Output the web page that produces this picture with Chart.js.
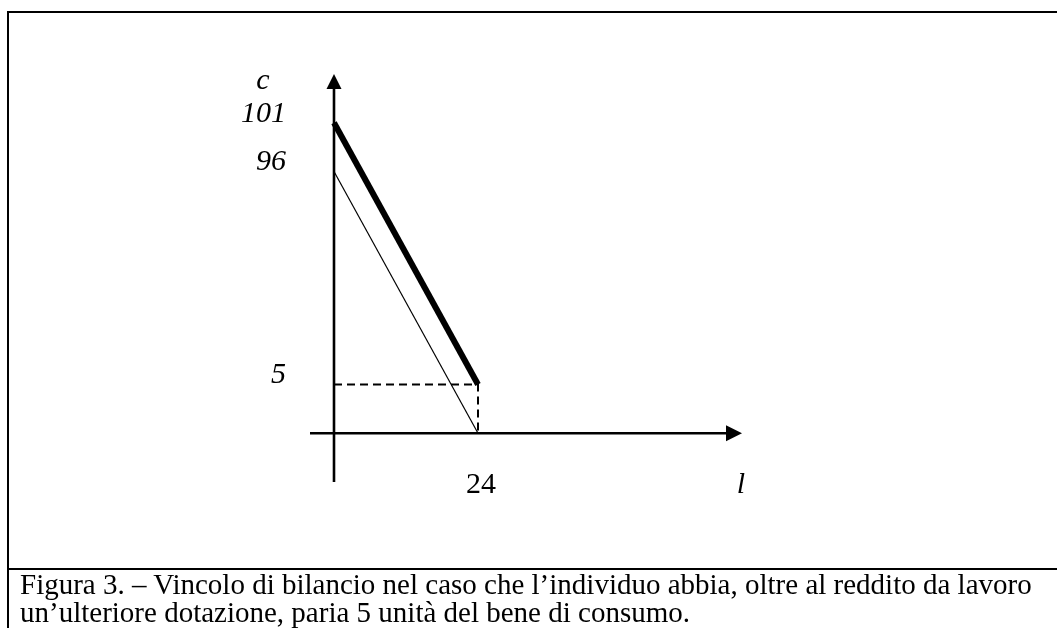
<!DOCTYPE html>
<html>
<head>
<meta charset="utf-8">
<script src="https://cdn.jsdelivr.net/npm/chart.js@4/dist/chart.umd.min.js"></script>
<style>
  body { margin: 0; background: #fff; }
  #wrap { position: relative; width: 1057px; height: 628px; overflow: hidden; }
  #frame { position: absolute; left: 7px; top: 11px; width: 1070px; height: 555px;
           border-top: 2px solid #000; border-left: 2px solid #000; border-bottom: 2px solid #000; }
  #frameLow { position: absolute; left: 7px; top: 568px; width: 0; height: 60px; border-left: 2px solid #000; }
  #caption { position: absolute; left: 20px; top: 570px; font: 29px "Liberation Serif", serif;
             line-height: 28px; white-space: nowrap; color: #000; }
  canvas { position: absolute; left: 0; top: 0; }
</style>
</head>
<body>
<div id="wrap">
  <div id="frame"></div>
  <div id="frameLow"></div>
  <canvas id="budget" width="1057" height="628"></canvas>
  <div id="caption">
    <div>Figura 3. – Vincolo di bilancio nel caso che l’individuo abbia, oltre al reddito da lavoro</div>
    <div>un’ulteriore dotazione, paria 5 unità del bene di consumo.</div>
  </div>
</div>
<script>
// leisure hours (l) and consumption (c)
var leisure = [0, 24];
var consWithEndowment = [101, 5];
var consLabourOnly = [96, 0];
var endowment = 5;

var yTicks = [101, 96, 5];
var xTicks = [24];
var yName = 'c';
var xName = 'l';

// vertical axis is drawn "not to scale": the stretch between 5 and 96 is squeezed
var BREAK_LO = 5, BREAK_HI = 96, SQUEEZE = 0.24;
function squeeze(v) {
    if (v <= BREAK_LO) return v;
    if (v <= BREAK_HI) return BREAK_LO + (v - BREAK_LO) * SQUEEZE;
    return BREAK_LO + (BREAK_HI - BREAK_LO) * SQUEEZE + (v - BREAK_HI);
}
function unsqueeze(u) {
    var mid = BREAK_LO + (BREAK_HI - BREAK_LO) * SQUEEZE;
    if (u <= BREAK_LO) return u;
    if (u <= mid) return BREAK_LO + (u - BREAK_LO) / SQUEEZE;
    return BREAK_HI + (u - mid);
}

class SqueezedScale extends Chart.LinearScale {
    getPixelForValue(v) {
        var a = squeeze(this.min), b = squeeze(this.max);
        return this.getPixelForDecimal((squeeze(v) - a) / (b - a));
    }
    getValueForPixel(p) {
        var a = squeeze(this.min), b = squeeze(this.max);
        return unsqueeze(a + this.getDecimalForPixel(p) * (b - a));
    }
}
SqueezedScale.id = 'squeezed';
SqueezedScale.defaults = Chart.LinearScale.defaults;
Chart.register(SqueezedScale);

function pts(xs, ys) {
    return xs.map(function (x, i) { return { x: x, y: ys[i] }; });
}

// axes with arrow heads plus the hand placed labels
var sketchAxes = {
    id: 'sketchAxes',
    beforeDatasetsDraw: function (chart) {
        var ctx = chart.ctx, a = chart.chartArea;
        var xs = chart.scales.x, ys = chart.scales.y;
        var x0 = xs.getPixelForValue(0), y0 = ys.getPixelForValue(0);
        ctx.save();
        ctx.strokeStyle = '#000';
        ctx.fillStyle = '#000';
        ctx.lineWidth = 2.6;
        ctx.beginPath();
        ctx.moveTo(x0, a.bottom); ctx.lineTo(x0, a.top + 12);
        ctx.moveTo(a.left, y0); ctx.lineTo(a.right - 12, y0);
        ctx.stroke();
        ctx.beginPath();
        ctx.moveTo(x0, a.top); ctx.lineTo(x0 - 7.5, a.top + 15); ctx.lineTo(x0 + 7.5, a.top + 15);
        ctx.closePath(); ctx.fill();
        ctx.beginPath();
        ctx.moveTo(a.right, y0); ctx.lineTo(a.right - 16, y0 - 8); ctx.lineTo(a.right - 16, y0 + 8);
        ctx.closePath(); ctx.fill();

        ctx.font = 'italic 30px "Liberation Serif"';
        ctx.textBaseline = 'middle';
        ctx.textAlign = 'right';
        yTicks.forEach(function (v) {
            ctx.fillText(String(v), x0 - 48, ys.getPixelForValue(v) - 9);
        });
        ctx.textAlign = 'center';
        ctx.fillText(yName, x0 - 71, a.top + 7);
        ctx.fillText(xName, a.right - 1, y0 + 52);
        ctx.font = '30px "Liberation Serif"';
        xTicks.forEach(function (v) {
            ctx.fillText(String(v), xs.getPixelForValue(v) + 3, y0 + 52);
        });
        ctx.restore();
    }
};

new Chart(document.getElementById('budget'), {
    type: 'line',
    data: {
        datasets: [
            {
                data: pts(leisure, consWithEndowment),
                borderColor: '#000',
                borderWidth: 6,
                pointRadius: 0
            },
            {
                data: pts(leisure, consLabourOnly),
                borderColor: '#000',
                borderWidth: 1.2,
                pointRadius: 0
            },
            {
                data: [{ x: 0, y: endowment }, { x: leisure[1], y: endowment }, { x: leisure[1], y: 0 }],
                borderColor: '#000',
                borderWidth: 2,
                borderDash: [8, 5],
                pointRadius: 0
            }
        ]
    },
    options: {
        responsive: false,
        animation: false,
        layout: { padding: { left: 310, right: 315, top: 74, bottom: 146 } },
        plugins: { legend: { display: false }, tooltip: { enabled: false } },
        scales: {
            x: { type: 'linear', min: -4, max: 68, display: false },
            y: { type: 'squeezed', min: -5, max: 106, display: false }
        }
    },
    plugins: [sketchAxes]
});
</script>
</body>
</html>
